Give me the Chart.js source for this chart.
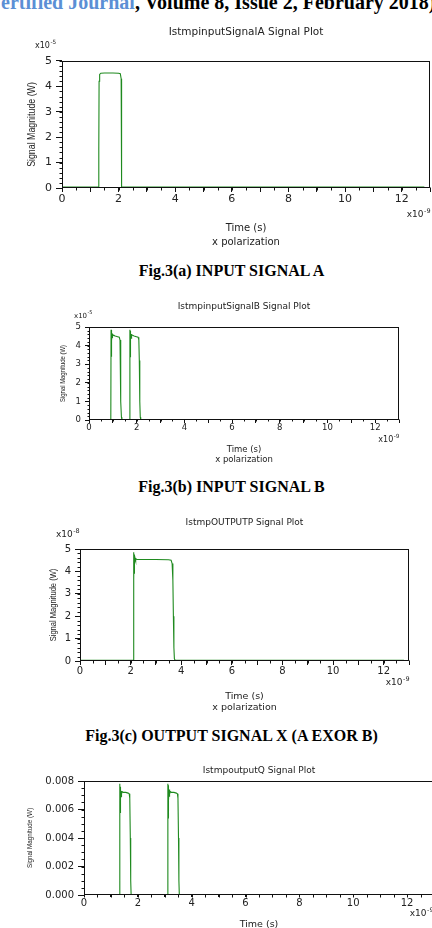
<!DOCTYPE html>
<html>
<head>
<meta charset="utf-8">
<script src="https://cdn.jsdelivr.net/npm/chart.js@4.4.1/dist/chart.umd.min.js"></script>
<style>
  html, body { margin: 0; padding: 0; background: #fff; width: 432px; height: 928px; overflow: hidden; position: relative; }
  canvas { position: absolute; left: 0; }
  .cabecera { position: absolute; left: 1px; top: -8px; white-space: nowrap; font: bold 20px/20px 'Liberation Serif', 'Times New Roman', serif; color: #000; }
  .cabecera span { color: #5b8fd5; }
  .pie { position: absolute; left: 0; width: 463px; text-align: center; white-space: nowrap; font: bold 16px/16px 'Liberation Serif', 'Times New Roman', serif; color: #000; }
</style>
</head>
<body>
<div class="cabecera"><span>ertified Journal</span>, Volume 8, Issue 2, February 2018)</div>

<canvas id="g_senal_a" width="450" height="229" style="top:20px"></canvas>
<div class="pie" style="top:263px">Fig.3(a) INPUT SIGNAL A</div>

<canvas id="g_senal_b" width="450" height="173" style="top:292px"></canvas>
<div class="pie" style="top:479px">Fig.3(b) INPUT SIGNAL B</div>

<canvas id="g_salida_p" width="450" height="208" style="top:505px"></canvas>
<div class="pie" style="top:728px">Fig.3(c) OUTPUT SIGNAL X (A EXOR B)</div>

<canvas id="g_salida_q" width="450" height="180" style="top:750px"></canvas>

<script>
// tiempo en ns (x10^-9 s); potencia en las unidades de cada eje
var tiempoA = [0, 1.29, 1.30, 1.31, 1.33, 1.37, 1.5, 1.8, 2.0, 2.06, 2.09, 2.10, 2.11, 12.8];
var potenciaA = [0.04, 0.04, 1.5, 4.2, 4.47, 4.52, 4.53, 4.53, 4.52, 4.5, 4.3, 2.0, 0.04, 0.04];

var tiempoB = [0, 0.915, 0.925, 0.93, 0.935, 0.94, 0.945, 0.95, 0.955, 0.96, 0.967, 0.975, 0.985, 0.995, 1.01, 1.04, 1.1, 1.2, 1.27, 1.3, 1.32, 1.34, 1.36, 1.38,
    1.705, 1.715, 1.72, 1.725, 1.73, 1.735, 1.74, 1.745, 1.75, 1.757, 1.765, 1.775, 1.785, 1.80, 1.83, 1.89, 1.99, 2.06, 2.09, 2.11, 2.13, 2.15, 2.17, 12.8];
var potenciaB = [0.03, 0.03, 4.85, 3.4, 4.8, 3.7, 4.75, 4.0, 4.7, 4.25, 4.65, 4.4, 4.62, 4.5, 4.58, 4.55, 4.52, 4.48, 4.45, 4.3, 3.2, 1.0, 0.15, 0.03,
    0.03, 4.85, 3.4, 4.8, 3.7, 4.75, 4.0, 4.7, 4.25, 4.65, 4.4, 4.62, 4.5, 4.58, 4.55, 4.52, 4.48, 4.45, 4.3, 3.2, 1.0, 0.15, 0.03, 0.03];

var tiempoP = [0, 2.10, 2.115, 2.12, 2.125, 2.13, 2.135, 2.14, 2.145, 2.15, 2.158, 2.166, 2.175, 2.19, 2.21, 2.25, 2.5, 3.0, 3.5, 3.6, 3.64, 3.67, 3.69, 3.71, 3.73, 3.76, 12.8];
var potenciaP = [0.03, 0.03, 4.85, 3.4, 4.8, 3.6, 4.75, 3.9, 4.7, 4.15, 4.65, 4.35, 4.6, 4.48, 4.56, 4.53, 4.53, 4.53, 4.52, 4.5, 4.35, 3.6, 2.0, 0.6, 0.1, 0.03, 0.03];

var tiempoQ = [0, 1.31, 1.325, 1.33, 1.335, 1.34, 1.345, 1.35, 1.355, 1.36, 1.368, 1.377, 1.387, 1.40, 1.42, 1.46, 1.55, 1.64, 1.68, 1.70, 1.72, 1.735, 1.75,
    3.10, 3.115, 3.12, 3.125, 3.13, 3.135, 3.14, 3.145, 3.15, 3.158, 3.167, 3.177, 3.19, 3.21, 3.25, 3.34, 3.43, 3.47, 3.49, 3.51, 3.525, 3.54, 12.8];
var potenciaQ = [0.00003, 0.00003, 0.0078, 0.0054, 0.0077, 0.0058, 0.0076, 0.0062, 0.0075, 0.0066, 0.0074, 0.0069, 0.0073, 0.0071, 0.00725, 0.0072, 0.0072, 0.00715, 0.0071, 0.0068, 0.004, 0.001, 0.00003,
    0.00003, 0.0078, 0.0054, 0.0077, 0.0058, 0.0076, 0.0062, 0.0075, 0.0066, 0.0074, 0.0069, 0.0073, 0.0071, 0.00725, 0.0072, 0.0072, 0.00715, 0.0071, 0.0068, 0.004, 0.001, 0.00003, 0.00003];

var etiquetasX = [0, 2, 4, 6, 8, 10, 12];
var etiquetasY = ['0', '1', '2', '3', '4', '5'];
var etiquetasQ = ['0.000', '0.002', '0.004', '0.006', '0.008'];

var VERDE = '#1f8a1f';
var TEXTO = '#222';
var SANS = "'DejaVu Sans', Verdana, sans-serif";

function puntos(t, p) {
    var r = [];
    for (var i = 0; i < t.length; i++) r.push({x: t[i], y: p[i]});
    return r;
}

function exponente(ctx, sup, x, y, size, derecha) {
    var fs = size * 0.72;
    ctx.font = size + 'px ' + SANS;
    var w1 = ctx.measureText('x10').width;
    ctx.font = fs + 'px ' + SANS;
    var w2 = ctx.measureText(sup).width;
    var x0 = derecha ? x - w1 - w2 : x;
    ctx.textAlign = 'left';
    ctx.textBaseline = 'middle';
    ctx.fillStyle = TEXTO;
    ctx.font = size + 'px ' + SANS;
    ctx.fillText('x10', x0, y);
    ctx.font = fs + 'px ' + SANS;
    ctx.fillText(sup, x0 + w1 + 0.5, y - size * 0.45);
}

// marco del area, ticks menores, titulo del eje y (estrecho) y exponentes
var marco = {
    id: 'marco',
    afterDraw: function (chart, args, op) {
        var ctx = chart.ctx, a = chart.chartArea, sx = chart.scales.x, sy = chart.scales.y;
        var l = Math.round(a.left) + 0.5, r = Math.round(a.right) - 0.5;
        var t = Math.round(a.top) + 0.5, b = Math.round(a.bottom) - 0.5;
        ctx.save();
        ctx.strokeStyle = '#111';
        ctx.lineWidth = 1;
        ctx.strokeRect(l, t, r - l, b - t);
        ctx.beginPath();
        for (var i = 0; i * op.menorX <= sx.max + 1e-9; i++) {
            var x = Math.round(sx.getPixelForValue(i * op.menorX)) + 0.5;
            ctx.moveTo(x, b); ctx.lineTo(x, b + op.largo);
        }
        for (var k = 0; sy.min + k * op.menorY <= sy.max * 1.000001; k++) {
            var y = Math.round(sy.getPixelForValue(sy.min + k * op.menorY)) + 0.5;
            ctx.moveTo(l, y); ctx.lineTo(l - op.largo, y);
        }
        ctx.stroke();

        ctx.save();
        ctx.translate(op.yTituloX, (a.top + a.bottom) / 2);
        ctx.rotate(-Math.PI / 2);
        ctx.scale(0.78, 1);
        ctx.fillStyle = TEXTO;
        ctx.textAlign = 'center';
        ctx.textBaseline = 'middle';
        ctx.font = op.yTituloSize + "px 'Liberation Sans', Arial, sans-serif";
        ctx.fillText('Signal Magnitude (W)', 0, 0);
        ctx.restore();

        if (op.arriba) exponente(ctx, op.arriba.sup, a.left + op.arriba.dx, a.top + op.arriba.dy, op.arriba.size, false);
        if (op.abajo) exponente(ctx, op.abajo.sup, a.right + op.abajo.dx, a.bottom + op.abajo.dy, op.abajo.size, true);
        ctx.restore();
    }
};

function crearGrafica(id, g, t, p) {
    var lhT = g.tituloSize * 1.2;
    var padT = g.tituloY - g.top - lhT / 2;
    var ctx = document.getElementById(id).getContext('2d');
    return new Chart(ctx, {
        type: 'scatter',
        data: {
            datasets: [{
                data: puntos(t, p),
                showLine: true,
                borderColor: VERDE,
                borderWidth: 1.1,
                pointRadius: 0,
                tension: 0,
                fill: false
            }]
        },
        options: {
            responsive: false,
            animation: false,
            layout: { padding: { left: 0, right: 450 - g.r, top: 0, bottom: 0 } },
            plugins: {
                legend: { display: false },
                tooltip: { enabled: false },
                title: {
                    display: true,
                    fullSize: false,
                    text: g.titulo,
                    color: TEXTO,
                    font: { family: SANS, size: g.tituloSize, weight: 'normal', lineHeight: 1.2 },
                    padding: { top: padT, bottom: g.t - g.top - padT - lhT }
                },
                marco: {
                    menorX: 0.5, menorY: g.yMenor, largo: g.largoMenor,
                    yTituloX: g.yTituloX, yTituloSize: g.yTituloSize,
                    arriba: g.expArriba, abajo: g.expAbajo
                }
            },
            scales: {
                x: {
                    type: 'linear',
                    min: 0,
                    max: 13,
                    afterFit: function (s) { s.height = g.top + g.alto - g.b; },
                    border: { display: false },
                    grid: { drawOnChartArea: false, drawTicks: true, tickLength: g.tickLargoX, color: '#111' },
                    ticks: {
                        stepSize: 1,
                        autoSkip: false,
                        maxRotation: 0,
                        padding: g.tickPadX,
                        color: TEXTO,
                        font: { family: SANS, size: g.tickSize },
                        callback: function (v) { return etiquetasX.indexOf(v) >= 0 ? String(v) : ''; }
                    },
                    title: {
                        display: true,
                        text: g.xTitulo,
                        color: TEXTO,
                        font: { family: SANS, size: g.xTituloSize, lineHeight: g.xTituloLh / g.xTituloSize },
                        padding: { top: 0, bottom: 0 }
                    }
                },
                y: {
                    min: g.yMin,
                    max: g.yMax,
                    afterFit: function (s) { s.width = g.l; },
                    border: { display: false },
                    grid: { drawOnChartArea: false, drawTicks: true, tickLength: g.tickLargoY, color: '#111' },
                    ticks: {
                        stepSize: g.yPaso,
                        autoSkip: false,
                        padding: g.tickPadY,
                        color: TEXTO,
                        font: { family: SANS, size: g.tickSize },
                        callback: function (v, i) { return g.etiquetas[i]; }
                    },
                    title: { display: false }
                }
            }
        },
        plugins: [marco]
    });
}

crearGrafica('g_senal_a', {
    top: 20, alto: 229, l: 62, r: 430, t: 61, b: 188,
    titulo: 'IstmpinputSignalA Signal Plot', tituloY: 32, tituloSize: 10.5,
    tickSize: 11, tickLargoX: 4, tickPadX: 1, tickLargoY: 6, tickPadY: 4, largoMenor: 3,
    xTitulo: ['Time (s)', 'x polarization'], xTituloSize: 10, xTituloLh: 14,
    yTituloX: 32, yTituloSize: 11.3,
    yMin: 0, yMax: 5, yPaso: 1, yMenor: 0.2, etiquetas: etiquetasY,
    expArriba: { sup: '-5', dx: -27, dy: -15, size: 8 },
    expAbajo: { sup: '-9', dx: 0, dy: 27, size: 9 }
}, tiempoA, potenciaA);

crearGrafica('g_senal_b', {
    top: 292, alto: 173, l: 89, r: 399, t: 327, b: 420,
    titulo: 'IstmpinputSignalB Signal Plot', tituloY: 307, tituloSize: 9,
    tickSize: 8.5, tickLargoX: 3, tickPadX: 0, tickLargoY: 4, tickPadY: 4, largoMenor: 2,
    xTitulo: ['Time (s)', 'x polarization'], xTituloSize: 8.5, xTituloLh: 10,
    yTituloX: 63, yTituloSize: 7.6,
    yMin: 0, yMax: 5, yPaso: 1, yMenor: 0.2, etiquetas: etiquetasY,
    expArriba: { sup: '-5', dx: -15, dy: -11, size: 7 },
    expAbajo: { sup: '-9', dx: 0, dy: 20, size: 8 }
}, tiempoB, potenciaB);

crearGrafica('g_salida_p', {
    top: 505, alto: 208, l: 80, r: 409, t: 549, b: 661,
    titulo: 'IstmpOUTPUTP Signal Plot', tituloY: 523, tituloSize: 9,
    tickSize: 10, tickLargoX: 4, tickPadX: 0, tickLargoY: 5, tickPadY: 4, largoMenor: 3,
    xTitulo: ['Time (s)', 'x polarization'], xTituloSize: 9.5, xTituloLh: 11,
    yTituloX: 53, yTituloSize: 9.7,
    yMin: 0, yMax: 5, yPaso: 1, yMenor: 0.2, etiquetas: etiquetasY,
    expArriba: { sup: '-8', dx: -24, dy: -14, size: 9 },
    expAbajo: { sup: '-9', dx: 0, dy: 22, size: 9 }
}, tiempoP, potenciaP);

crearGrafica('g_salida_q', {
    top: 750, alto: 180, l: 84, r: 434, t: 781, b: 895,
    titulo: 'IstmpoutputQ Signal Plot', tituloY: 771, tituloSize: 9,
    tickSize: 10, tickLargoX: 2, tickPadX: 0, tickLargoY: 6, tickPadY: 4, largoMenor: 3,
    xTitulo: 'Time (s)', xTituloSize: 9.5, xTituloLh: 11,
    yTituloX: 30, yTituloSize: 8,
    yMin: 0, yMax: 0.008, yPaso: 0.002, yMenor: 0.0005, etiquetas: etiquetasQ,
    expArriba: null,
    expAbajo: { sup: '-9', dx: -1, dy: 19, size: 9 }
}, tiempoQ, potenciaQ);
</script>
</body>
</html>
